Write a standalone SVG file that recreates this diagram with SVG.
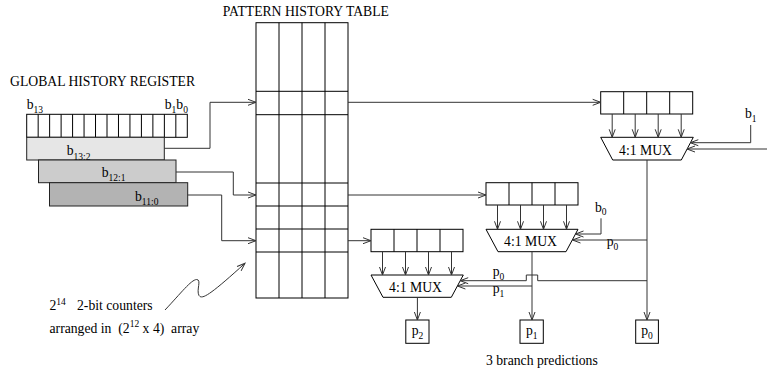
<svg xmlns="http://www.w3.org/2000/svg" width="767" height="372" viewBox="0 0 767 372">
<defs>
<style>
.t{font-family:"Liberation Serif","Times New Roman",serif;font-size:13.7px;fill:#000}
.s{font-size:9.5px}
.box{fill:#fff;stroke:#000;stroke-width:1}
.ln{fill:none;stroke:#000;stroke-width:1}
.c{fill:none;stroke:#333;stroke-width:1}
.a{marker-end:url(#ah)}
</style>
<marker id="ah" markerUnits="userSpaceOnUse" markerWidth="10" markerHeight="8" refX="9" refY="4" orient="auto" overflow="visible">
<path d="M1,1 L9,4 L1,7" fill="none" stroke="#333" stroke-width="1"/>
</marker>
</defs>
<rect width="767" height="372" fill="#fff"/>

<g id="ghr">
<text class="t" x="10" y="86">GLOBAL HISTORY REGISTER</text>
<rect class="box" x="26.7" y="114.3" width="160.6" height="23"/>
<path class="ln" d="M38.17,114.3V137.3M49.64,114.3V137.3M61.11,114.3V137.3M72.59,114.3V137.3M84.06,114.3V137.3M95.53,114.3V137.3M107,114.3V137.3M118.47,114.3V137.3M129.94,114.3V137.3M141.41,114.3V137.3M152.89,114.3V137.3M164.36,114.3V137.3M175.83,114.3V137.3"/>
<text class="t" x="26.7" y="109.3">b<tspan class="s" y="113">13</tspan></text>
<text class="t" x="164.7" y="109.3">b<tspan class="s" y="113">1</tspan><tspan y="109.3">b</tspan><tspan class="s" y="113">0</tspan></text>
</g>

<g id="bar-13-2">
<rect x="26.7" y="137.3" width="137.6" height="22.7" fill="#e6e6e6" stroke="#222"/>
<text class="t" x="66.7" y="155">b<tspan class="s" y="159.5">13:2</tspan></text>
</g>
<g id="bar-12-1">
<rect x="38.5" y="160" width="137.5" height="22.7" fill="#cccccc" stroke="#222"/>
<text class="t" x="101.7" y="176.7">b<tspan class="s" y="181">12:1</tspan></text>
</g>
<g id="bar-11-0">
<rect x="49.5" y="182.7" width="138.2" height="23.3" fill="#b3b3b3" stroke="#222"/>
<text class="t" x="135" y="200.7">b<tspan class="s" y="205">11:0</tspan></text>
</g>

<g id="pht">
<text class="t" x="222.7" y="16">PATTERN HISTORY TABLE</text>
<rect class="box" x="256" y="22.7" width="92" height="275.3"/>
<path class="ln" d="M279,22.7V298M302,22.7V298M325,22.7V298M256,91.3H348M256,114.7H348M256,183H348M256,206H348M256,229H348M256,252H348"/>
</g>

<g id="reg-right">
<rect class="box" x="600.7" y="91.7" width="92" height="22.3"/>
<path class="ln" d="M623.7,91.7V114M646.7,91.7V114M669.7,91.7V114"/>
</g>
<g id="mux-right">
<polygon class="box" points="600.7,137.3 693.3,137.3 681.3,160 612.7,160"/>
<text class="t" x="645.5" y="154.5" text-anchor="middle">4:1 MUX</text>
</g>

<g id="reg-middle">
<rect class="box" x="486" y="182.7" width="92" height="22.3"/>
<path class="ln" d="M509,182.7V205M532,182.7V205M555,182.7V205"/>
</g>
<g id="mux-middle">
<polygon class="box" points="486,229.3 578,229.3 566,251.7 498,251.7"/>
<text class="t" x="530.5" y="245.5" text-anchor="middle">4:1 MUX</text>
</g>

<g id="reg-left">
<rect class="box" x="371" y="229.3" width="92" height="22.4"/>
<path class="ln" d="M394,229.3V251.7M417,229.3V251.7M440,229.3V251.7"/>
</g>
<g id="mux-left">
<polygon class="box" points="371,275 463.3,275 451.3,297.3 383,297.3"/>
<text class="t" x="415.5" y="291.5" text-anchor="middle">4:1 MUX</text>
</g>

<g id="out-p2">
<rect class="box" x="405.8" y="320" width="23.2" height="23.3"/>
<text class="t" x="411.7" y="335">p<tspan class="s" y="338.5">2</tspan></text>
</g>
<g id="out-p1">
<rect class="box" x="520" y="320" width="23.3" height="23.3"/>
<text class="t" x="525.9" y="335">p<tspan class="s" y="338.5">1</tspan></text>
</g>
<g id="out-p0">
<rect class="box" x="635.7" y="320" width="22.7" height="23.3"/>
<text class="t" x="641.2" y="335">p<tspan class="s" y="338.5">0</tspan></text>
</g>

<g id="labels">
<text class="t" x="745" y="118">b<tspan class="s" y="121.5">1</tspan></text>
<text class="t" x="595" y="211.7">b<tspan class="s" y="215">0</tspan></text>
<text class="t" x="606.7" y="246">p<tspan class="s" y="249.5">0</tspan></text>
<text class="t" x="492.7" y="276.3">p<tspan class="s" y="279.5">0</tspan></text>
<text class="t" x="492.7" y="293">p<tspan class="s" y="296.5">1</tspan></text>
<text class="t" x="486" y="365">3 branch predictions</text>
<text class="t" x="49.5" y="310">2<tspan class="s" y="304.5">14</tspan><tspan x="77" y="310">2-bit counters</tspan></text>
<text class="t" x="49.5" y="332.7" xml:space="preserve">arranged in  (2<tspan class="s" y="326.5">12</tspan><tspan y="332.7"> x 4)  array</tspan></text>
</g>

<g id="connectors">
<path class="c a" d="M164.3,148.3H210V102.3H256"/>
<path class="c a" d="M176,172H233.3V195H256"/>
<path class="c a" d="M187.7,195H221.7V240.7H256"/>
<path class="c a" d="M348,102.3H600.7"/>
<path class="c a" d="M348,195H486"/>
<path class="c a" d="M348,240.7H371"/>
<path class="c a" d="M612.2,114V137.3"/>
<path class="c a" d="M635.2,114V137.3"/>
<path class="c a" d="M658.2,114V137.3"/>
<path class="c a" d="M681.2,114V137.3"/>
<path class="c a" d="M497.5,205V229.3"/>
<path class="c a" d="M520.5,205V229.3"/>
<path class="c a" d="M543.5,205V229.3"/>
<path class="c a" d="M566.5,205V229.3"/>
<path class="c a" d="M382.5,251.7V275"/>
<path class="c a" d="M405.5,251.7V275"/>
<path class="c a" d="M428.5,251.7V275"/>
<path class="c a" d="M451.5,251.7V275"/>
<path class="c a" d="M750.7,125V142.7H690.3"/>
<path class="c a" d="M767,149H687"/>
<path class="c a" d="M647,160V320"/>
<path class="c a" d="M647,240H572.5"/>
<path class="c a" d="M601,218.3V234H575.5"/>
<path class="c a" d="M532,251.7V320"/>
<path class="c a" d="M647,280.7H537.7V275H526.3V280.7H460.2"/>
<path class="c a" d="M532,286H457.4"/>
<path class="c a" d="M417.4,297.3V320"/>
<path class="c a" d="M165,310C181,293 191,280 196.5,279.5C202,279.5 196,290 199,295.5C202,300 210,295 245,263.3"/>
</g>
</svg>
